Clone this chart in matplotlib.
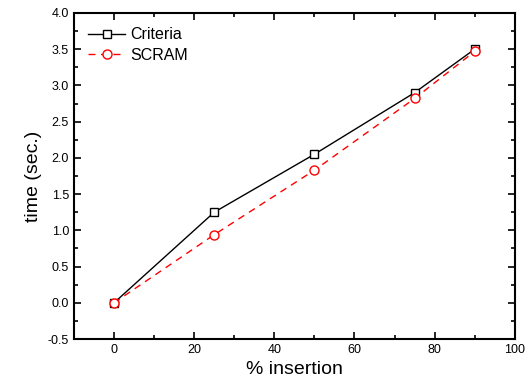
import matplotlib
matplotlib.use('Agg')
from matplotlib import pyplot as plt
from matplotlib.ticker import MultipleLocator

insertion = [0, 25, 50, 75, 90]
criteria = [0.0, 1.25, 2.05, 2.90, 3.50]
scram = [0.0, 0.94, 1.83, 2.82, 3.47]

plt.rcParams['font.family'] = ['Liberation Sans', 'DejaVu Sans']

fig = plt.figure(figsize=(5.28, 3.92), dpi=100)
ax = fig.add_axes([0.140, 0.135, 0.835, 0.832])

ax.plot(insertion, criteria, color='black', lw=1, marker='s', ms=5.5,
        mfc='white', mec='black', mew=1, label='Criteria')
ax.plot(insertion, scram, color='red', lw=1, ls=(0, (5, 4)), marker='o', ms=6.5,
        mfc='white', mec='red', mew=1, label='SCRAM')

ax.set_xlim(-10, 100)
ax.set_ylim(-0.5, 4.0)
ax.xaxis.set_major_locator(MultipleLocator(20))
ax.xaxis.set_minor_locator(MultipleLocator(10))
ax.yaxis.set_major_locator(MultipleLocator(0.5))
ax.yaxis.set_minor_locator(MultipleLocator(0.25))
ax.yaxis.set_major_formatter(matplotlib.ticker.FormatStrFormatter('%.1f'))
ax.tick_params(which='both', direction='in', top=True, right=True, width=1.2)
ax.tick_params(which='major', length=5, labelsize=9)
ax.tick_params(which='minor', length=3)
for s in ax.spines.values():
    s.set_linewidth(1.5)

ax.set_xlabel('% insertion', fontsize=14)
ax.set_ylabel('time (sec.)', fontsize=14)
ax.legend(loc='upper left', frameon=False, fontsize=11.5, handlelength=2.3,
          borderaxespad=0.5, labelspacing=0.35, handletextpad=0.3)

fig.savefig('out.png', dpi=100)
